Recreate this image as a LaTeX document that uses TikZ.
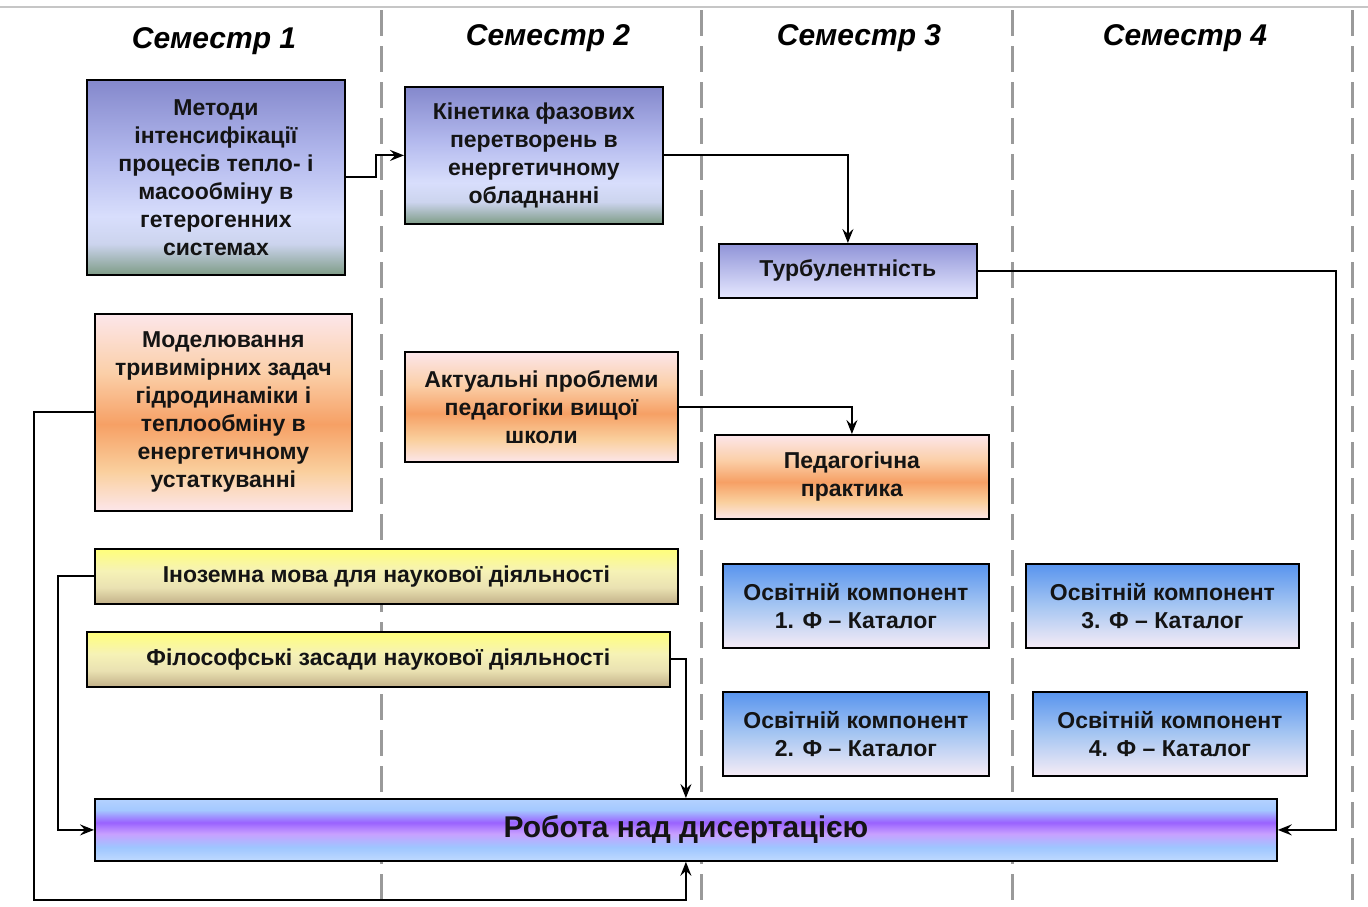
\documentclass[tikz,border=0pt]{standalone}
\usepackage{fontspec}
\setmainfont{Liberation Sans}
\usetikzlibrary{arrows.meta,calc}
\definecolor{mT}{HTML}{8488CC}
\definecolor{mU}{HTML}{B4BAEE}
\definecolor{mL}{HTML}{D8DEFC}
\definecolor{mG}{HTML}{CCD4EE}
\definecolor{mB}{HTML}{7E9C86}
\definecolor{oE}{HTML}{FCE6EA}
\definecolor{oY}{HTML}{FBCFA8}
\definecolor{oO}{HTML}{F6A065}
\definecolor{oP}{HTML}{FAD09E}
\definecolor{yT}{HTML}{FFFF7A}
\definecolor{yM}{HTML}{F6F2B6}
\definecolor{yN}{HTML}{EAE2B2}
\definecolor{yB}{HTML}{C2B088}
\definecolor{kT}{HTML}{5894EE}
\definecolor{kM}{HTML}{A6C6F2}
\definecolor{kB}{HTML}{F6ECF6}
\definecolor{rA}{HTML}{B4D2FF}
\definecolor{rB}{HTML}{A4C8FF}
\definecolor{rP}{HTML}{9A62FF}
\definecolor{rL}{HTML}{C8A0FF}
\definecolor{rC}{HTML}{9EC6FF}
\definecolor{rD}{HTML}{C0DAFF}
\definecolor{tT}{HTML}{9094D8}
\definecolor{tB}{HTML}{E6E8FF}
\definecolor{dashgray}{HTML}{9A9A9A}
\definecolor{txt}{HTML}{141414}
\pgfdeclareverticalshading{shMet}{100bp}{color(0bp)=(mB); color(25bp)=(mB); color(33bp)=(mG); color(40bp)=(mL); color(55bp)=(mU); color(75bp)=(mT); color(100bp)=(mT)}
\pgfdeclareverticalshading{shOr}{100bp}{color(0bp)=(oE); color(25bp)=(oE); color(35bp)=(oP); color(47bp)=(oO); color(60bp)=(oY); color(75bp)=(oE); color(100bp)=(oE)}
\pgfdeclareverticalshading{shYe}{100bp}{color(0bp)=(yB); color(25bp)=(yB); color(40bp)=(yN); color(55bp)=(yM); color(75bp)=(yT); color(100bp)=(yT)}
\pgfdeclareverticalshading{shOk}{100bp}{color(0bp)=(kB); color(25bp)=(kB); color(50bp)=(kM); color(75bp)=(kT); color(100bp)=(kT)}
\pgfdeclareverticalshading{shRob}{100bp}{color(0bp)=(rD); color(25bp)=(rD); color(36bp)=(rC); color(47bp)=(rL); color(56bp)=(rP); color(66bp)=(rB); color(75bp)=(rA); color(100bp)=(rA)}
\pgfdeclareverticalshading{shTur}{100bp}{color(0bp)=(tB); color(25bp)=(tB); color(75bp)=(tT); color(100bp)=(tT)}
\begin{document}
\begin{tikzpicture}[x=1pt,y=-1pt,
  box/.style={draw=black, line width=1.8pt, anchor=north west, align=center, text=txt,
    font=\fontsize{23}{28}\selectfont\bfseries, inner sep=0pt},
  sem/.style={anchor=base, font=\fontsize{30}{32}\selectfont\bfseries\itshape},
  dashline/.style={draw=dashgray, line width=3pt, dash pattern=on 26pt off 10pt},
  arr/.style={draw=black, line width=2pt, -{Stealth[length=14pt,width=11pt,inset=5pt]}}]
\useasboundingbox (0,0) rectangle (1368,906);
\fill[white] (0,0) rectangle (1368,906);
% top rule and column separators
\draw[draw=gray!45, line width=1.2pt] (0,7) -- (1368,7);
\foreach \xx in {381,701,1012,1352} \draw[dashline] (\xx,10) -- (\xx,906);
% headers
\node[sem] (s1) at (214,48) {Семестр 1};
\node[sem] (s2) at (548,45) {Семестр 2};
\node[sem] (s3) at (859,45) {Семестр 3};
\node[sem] (s4) at (1185,45) {Семестр 4};
% boxes
\node[box, shading=shMet, minimum width=258pt, minimum height=195pt] (met) at (86,79)
  {Методи\\інтенсифікації\\процесів тепло- і\\масообміну в\\гетерогенних\\системах};
\node[box, shading=shMet, minimum width=258pt, minimum height=137pt] (kin) at (404,86)
  {Кінетика фазових\\перетворень в\\енергетичному\\обладнанні};
\node[box, shading=shTur, minimum width=258pt, minimum height=54pt] (tur) at (718,243)
  {Турбулентність};
\node[box, shading=shOr, minimum width=257pt, minimum height=197pt] (mod) at (94,313)
  {Моделювання\\тривимірних задач\\гідродинаміки і\\теплообміну в\\енергетичному\\устаткуванні};
\node[box, shading=shOr, minimum width=273pt, minimum height=110pt] (akt) at (404,351)
  {Актуальні проблеми\\педагогіки вищої\\школи};
\node[box, shading=shOr, minimum width=274pt, minimum height=84pt] (ped) at (714,434)
  {Педагогічна\\практика};
\node[box, shading=shYe, minimum width=583pt, minimum height=55pt] (ino) at (94,548)
  {Іноземна мова для наукової діяльності};
\node[box, shading=shYe, minimum width=583pt, minimum height=55pt] (fil) at (86,631)
  {Філософські засади наукової діяльності};
\node[box, shading=shOk, minimum width=266pt, minimum height=84pt] (ok1) at (722,563)
  {Освітній компонент\\1. Ф – Каталог};
\node[box, shading=shOk, minimum width=273pt, minimum height=84pt] (ok3) at (1025,563)
  {Освітній компонент\\3. Ф – Каталог};
\node[box, shading=shOk, minimum width=266pt, minimum height=84pt] (ok2) at (722,691)
  {Освітній компонент\\2. Ф – Каталог};
\node[box, shading=shOk, minimum width=274pt, minimum height=84pt] (ok4) at (1032,691)
  {Освітній компонент\\4. Ф – Каталог};
\node[box, shading=shRob, minimum width=1182pt, minimum height=62pt,
  font=\fontsize{30}{32}\selectfont\bfseries] (rob) at (94,798)
  {Робота над дисертацією};
% connectors
\coordinate (lb) at (34,900);
\draw[arr] (met.east) -- ++(30,0) |- (kin.west);
\draw[arr] (kin.east) -| (tur.north);
\draw[arr] (tur.east) -- ++(358,0) |- (rob.east);
\draw[arr] (akt.east) -| (ped.north);
\draw[arr] (mod.west) -| (lb) -| (rob.south);
\draw[arr] (ino.west) -- ++(-36,0) |- (rob.west);
\draw[arr] (fil.east) -| (rob.north);
\end{tikzpicture}
\end{document}
